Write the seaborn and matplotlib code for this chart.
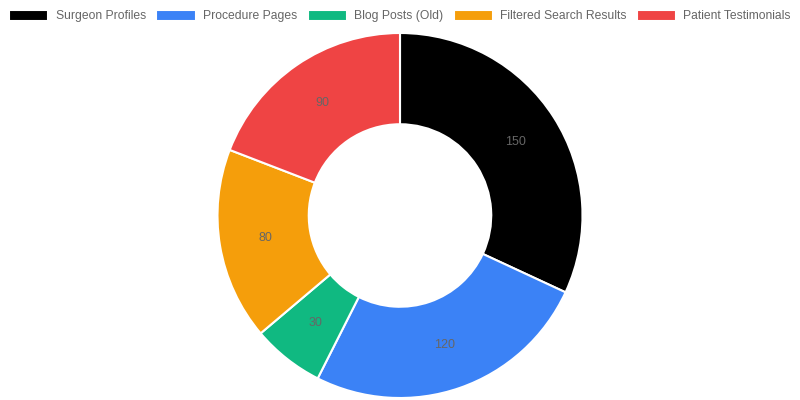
import matplotlib
matplotlib.use("Agg")
import numpy as np
import matplotlib.pyplot as plt
import seaborn as sns

# Chart data
categories = ["Surgeon Profiles", "Procedure Pages", "Blog Posts (Old)",
              "Filtered Search Results", "Patient Testimonials"]
values = [150, 120, 30, 80, 90]
colors = ["#000000", "#3B82F6", "#10B981", "#F59E0B", "#EF4444"]

sns.set_theme(style="white")
plt.rcParams["font.family"] = ["Liberation Sans", "DejaVu Sans"]

fig = plt.figure(figsize=(8, 4), dpi=100)
# donut sits in a square box: 365px wide, centred at x=400, y=215
ax = fig.add_axes([217.5 / 800, 2 / 400, 365 / 800, 365 / 400])

wedges, _ = ax.pie(
    values,
    colors=colors,
    startangle=90,
    counterclock=False,
    radius=1.0,
    wedgeprops=dict(width=0.5, edgecolor="white", linewidth=1.5),
)
ax.set_xlim(-1, 1)
ax.set_ylim(-1, 1)
ax.set_aspect("equal")
ax.axis("off")

# value labels at the middle of each ring segment
total = sum(values)
start = 90.0
for v in values:
    sweep = 360.0 * v / total
    mid = np.deg2rad(start - sweep / 2)
    ax.text(0.75 * np.cos(mid), 0.75 * np.sin(mid), str(v),
            ha="center", va="center", fontsize=9, color="#666666")
    start -= sweep

fig.legend(
    wedges, categories,
    loc="center", bbox_to_anchor=(0.5, 1 - 16 / 400),
    ncol=5, frameon=False, fontsize=8.7, labelcolor="#666666",
    handlelength=3.25, handleheight=1.0, handletextpad=0.58,
    columnspacing=0.88, borderaxespad=0, borderpad=0,
)

fig.savefig("out.png", dpi=100)
